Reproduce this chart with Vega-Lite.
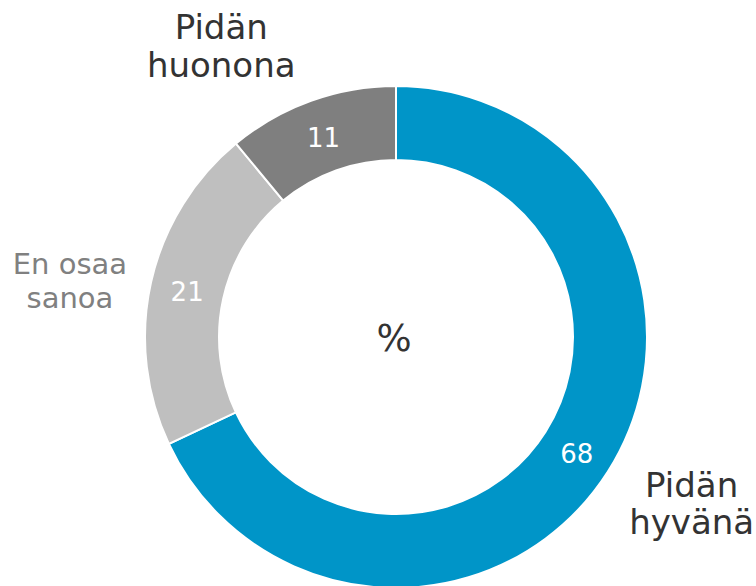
{
  "$schema": "https://vega.github.io/schema/vega-lite/v6.json",
  "autosize": {"type": "none"},
  "width": 600,
  "height": 498,
  "padding": {"left": 96, "top": 88, "right": 60, "bottom": 0},
  "background": "white",
  "config": {"view": {"stroke": null}, "font": "DejaVu Sans"},
  "data": {
    "values": [
      {"category": "Pidän hyvänä", "label": "Pidän\nhyvänä", "value": 68, "order": 1},
      {"category": "En osaa sanoa", "label": "En osaa\nsanoa", "value": 21, "order": 2},
      {"category": "Pidän huonona", "label": "Pidän\nhuonona", "value": 11, "order": 3}
    ]
  },
  "transform": [
    {"stack": "value", "sortby": [{"field": "order", "order": "ascending"}], "groupby": [], "as": ["v0", "v1"]}
  ],
  "layer": [
    {
      "mark": {"type": "arc", "outerRadius": 251, "innerRadius": 177, "stroke": "white", "strokeWidth": 2},
      "encoding": {
        "theta": {"field": "v0", "type": "quantitative", "scale": {"domain": [0, 100]}},
        "theta2": {"field": "v1"},
        "color": {
          "field": "category",
          "type": "nominal",
          "scale": {"domain": ["Pidän hyvänä", "En osaa sanoa", "Pidän huonona"], "range": ["#0095C8", "#BFBFBF", "#7F7F7F"]},
          "legend": null
        }
      }
    },
    {
      "mark": {"type": "text", "radius": 214, "fontSize": 26, "dy": 3, "color": "white", "align": "center", "baseline": "middle"},
      "encoding": {
        "theta": {"field": "value", "type": "quantitative", "stack": true, "scale": {"domain": [0, 100]}},
        "order": {"field": "order", "type": "quantitative"},
        "text": {"field": "value", "type": "quantitative"}
      }
    },
    {
      "transform": [{"filter": "datum.order == 3"}],
      "mark": {"type": "text", "radius": 330, "thetaOffset": 0.3456, "dx": -63, "dy": 2, "fontSize": 34, "lineHeight": 38, "lineBreak": "\n", "color": "#333333", "align": "center", "baseline": "middle"},
      "encoding": {
        "theta": {"field": "v0", "type": "quantitative", "scale": {"domain": [0, 100]}},
        "text": {"field": "label", "type": "nominal"}
      }
    },
    {
      "transform": [{"filter": "datum.order == 2"}],
      "mark": {"type": "text", "radius": 330, "thetaOffset": 0.6597, "dx": -4, "dy": 0, "fontSize": 29, "lineHeight": 34, "lineBreak": "\n", "color": "#808080", "align": "center", "baseline": "middle"},
      "encoding": {
        "theta": {"field": "v0", "type": "quantitative", "scale": {"domain": [0, 100]}},
        "text": {"field": "label", "type": "nominal"}
      }
    },
    {
      "transform": [{"filter": "datum.order == 1"}],
      "mark": {"type": "text", "radius": 330, "thetaOffset": 2.1363, "dx": 17, "dy": -27, "fontSize": 34, "lineHeight": 37, "lineBreak": "\n", "color": "#333333", "align": "center", "baseline": "middle"},
      "encoding": {
        "theta": {"field": "v0", "type": "quantitative", "scale": {"domain": [0, 100]}},
        "text": {"field": "label", "type": "nominal"}
      }
    },
    {
      "data": {"values": [{"t": "%"}]},
      "transform": [],
      "mark": {"type": "text", "fontSize": 37, "color": "#333333", "align": "center", "baseline": "middle", "dx": -2, "dy": 3},
      "encoding": {"text": {"field": "t", "type": "nominal"}}
    }
  ]
}
